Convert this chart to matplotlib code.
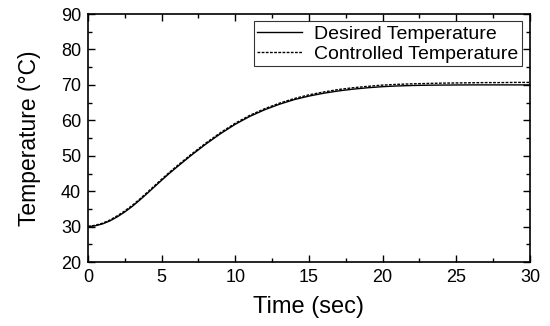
import numpy as np
from matplotlib import pyplot as plt

plt.rcParams["font.family"] = ["Liberation Sans", "DejaVu Sans"]

# data
time_s = [0, 0.5, 1, 1.5, 2, 2.5, 3, 3.5, 4, 4.5, 5, 5.5, 6,
          7, 8, 9, 10, 11, 12, 13, 14, 15, 16, 17, 18, 19, 20,
          21, 22, 23, 24, 25, 26, 27, 28, 29, 30]
desired = [30.0, 30.25, 30.8, 31.65, 32.8, 34.15, 35.7, 37.45, 39.3, 41.2,
           43.1, 44.95, 46.7,
           50.1, 53.3, 56.25, 58.9, 61.15, 63.0, 64.55, 65.85, 66.85, 67.65,
           68.3, 68.8, 69.2, 69.5,
           69.7, 69.83, 69.91, 69.95, 69.98, 70.0, 70.0, 70.0, 70.0, 70.0]
controlled = [30.05, 30.4, 31.0, 31.9, 33.1, 34.45, 36.0, 37.75, 39.6, 41.5,
              43.4, 45.25, 47.0,
              50.4, 53.6, 56.55, 59.2, 61.45, 63.3, 64.85, 66.15, 67.2, 68.0,
              68.7, 69.2, 69.6, 69.95,
              70.15, 70.3, 70.4, 70.5, 70.55, 70.6, 70.65, 70.65, 70.7, 70.7]

fig = plt.figure(figsize=(5.5, 3.26), dpi=100)
ax = fig.add_axes([0.16, 0.196, 0.8036, 0.761])
ax.plot(time_s, desired, color="black", lw=1.0, label="Desired Temperature")
ax.plot(time_s, controlled, color="black", lw=1.0, linestyle=(0, (2, 1)),
        label="Controlled Temperature")

ax.set_xlim(0, 30)
ax.set_ylim(20, 90)
ax.set_xticks(np.arange(0, 31, 5))
ax.set_xticks(np.arange(0, 31, 2.5), minor=True)
ax.set_yticks(np.arange(20, 91, 10))
ax.set_yticks(np.arange(20, 91, 5), minor=True)
ax.tick_params(which="both", direction="in", top=True, right=True,
               labelsize=13, width=1.0)
ax.tick_params(axis="x", pad=5)
ax.tick_params(axis="y", pad=5)
ax.tick_params(which="major", length=5)
ax.tick_params(which="minor", length=3)
for s in ax.spines.values():
    s.set_linewidth(1.2)

ax.set_xlabel("Time (sec)", fontsize=17, labelpad=7)
ax.set_ylabel("Temperature (°C)", fontsize=16.5, labelpad=14)

leg = ax.legend(loc="upper right", bbox_to_anchor=(0.982, 0.97), fontsize=14,
                frameon=True, fancybox=False, edgecolor="black",
                handlelength=2.3, borderpad=0.2, labelspacing=0.1,
                handletextpad=0.6, borderaxespad=0)
leg.get_frame().set_linewidth(0.8)

fig.savefig("out.png", dpi=100)
